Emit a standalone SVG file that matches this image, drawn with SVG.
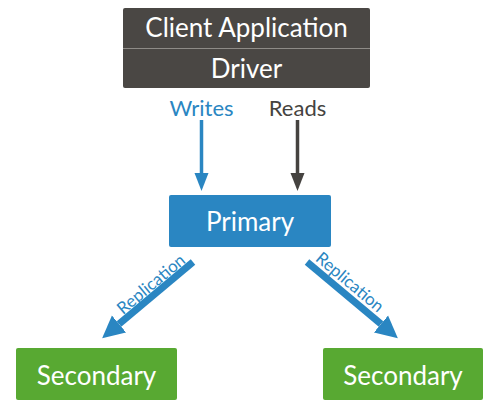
<svg xmlns="http://www.w3.org/2000/svg" width="500" height="409" viewBox="0 0 500 409">
  <style>
    .lbl { font-family: Lato, "Open Sans", "Liberation Sans", sans-serif; fill: #ffffff; text-anchor: middle; }
    .big { font-size: 26px; }
    .edge { font-family: Lato, "Open Sans", "Liberation Sans", sans-serif; font-size: 22px; text-anchor: middle; }
    .rep { font-family: Lato, "Open Sans", "Liberation Sans", sans-serif; font-size: 17px; fill: #2a86c2; text-anchor: middle; }
  </style>
  <defs>
    <marker id="hBlue" markerUnits="userSpaceOnUse" markerWidth="20" markerHeight="16" refX="0" refY="8" orient="auto" viewBox="0 0 20 16">
      <path d="M0,1 L18,8 L0,15 z" fill="#2a86c2"/>
    </marker>
    <marker id="hDark" markerUnits="userSpaceOnUse" markerWidth="20" markerHeight="16" refX="0" refY="8" orient="auto" viewBox="0 0 20 16">
      <path d="M0,1 L18,8 L0,15 z" fill="#454340"/>
    </marker>
    <marker id="hRep" markerUnits="userSpaceOnUse" markerWidth="24" markerHeight="24" refX="0" refY="12" orient="auto" viewBox="0 0 24 24">
      <path d="M0,1 L22,12 L0,23 z" fill="#2a86c2"/>
    </marker>
  </defs>

  <g id="client">
    <rect x="123" y="8" width="247" height="80" rx="2" fill="#4a4744"/>
    <line x1="123" y1="48.5" x2="370" y2="48.5" stroke="#8e8b87" stroke-width="1"/>
    <text class="lbl big" x="246.5" y="37">Client Application</text>
    <text class="lbl big" x="246.5" y="78">Driver</text>
  </g>

  <g id="primary">
    <rect x="169" y="195" width="162" height="52" rx="2" fill="#2a86c2"/>
    <text class="lbl big" x="250" y="231">Primary</text>
  </g>

  <g id="secondary-left">
    <rect x="16" y="348" width="161" height="52" rx="2" fill="#58a932"/>
    <text class="lbl big" x="96.5" y="385">Secondary</text>
  </g>

  <g id="secondary-right">
    <rect x="323" y="348" width="160" height="52" rx="2" fill="#58a932"/>
    <text class="lbl big" x="403" y="385">Secondary</text>
  </g>

  <g id="connectors">
    <line x1="201.5" y1="120" x2="201.5" y2="173" stroke="#2a86c2" stroke-width="3.5" marker-end="url(#hBlue)"/>
    <text class="edge" x="201.5" y="116" fill="#2a86c2">Writes</text>
    <line x1="297.5" y1="120" x2="297.5" y2="173" stroke="#454340" stroke-width="3.5" marker-end="url(#hDark)"/>
    <text class="edge" x="297.5" y="116" fill="#454340">Reads</text>

    <line x1="193" y1="262" x2="119" y2="324" stroke="#2a86c2" stroke-width="7" marker-end="url(#hRep)"/>
    <text class="rep" transform="translate(151,284) rotate(-39.9)" x="0" y="6">Replication</text>
    <line x1="307" y1="262" x2="381" y2="324" stroke="#2a86c2" stroke-width="7" marker-end="url(#hRep)"/>
    <text class="rep" transform="translate(350,282) rotate(39.9)" x="0" y="6">Replication</text>
  </g>
</svg>
